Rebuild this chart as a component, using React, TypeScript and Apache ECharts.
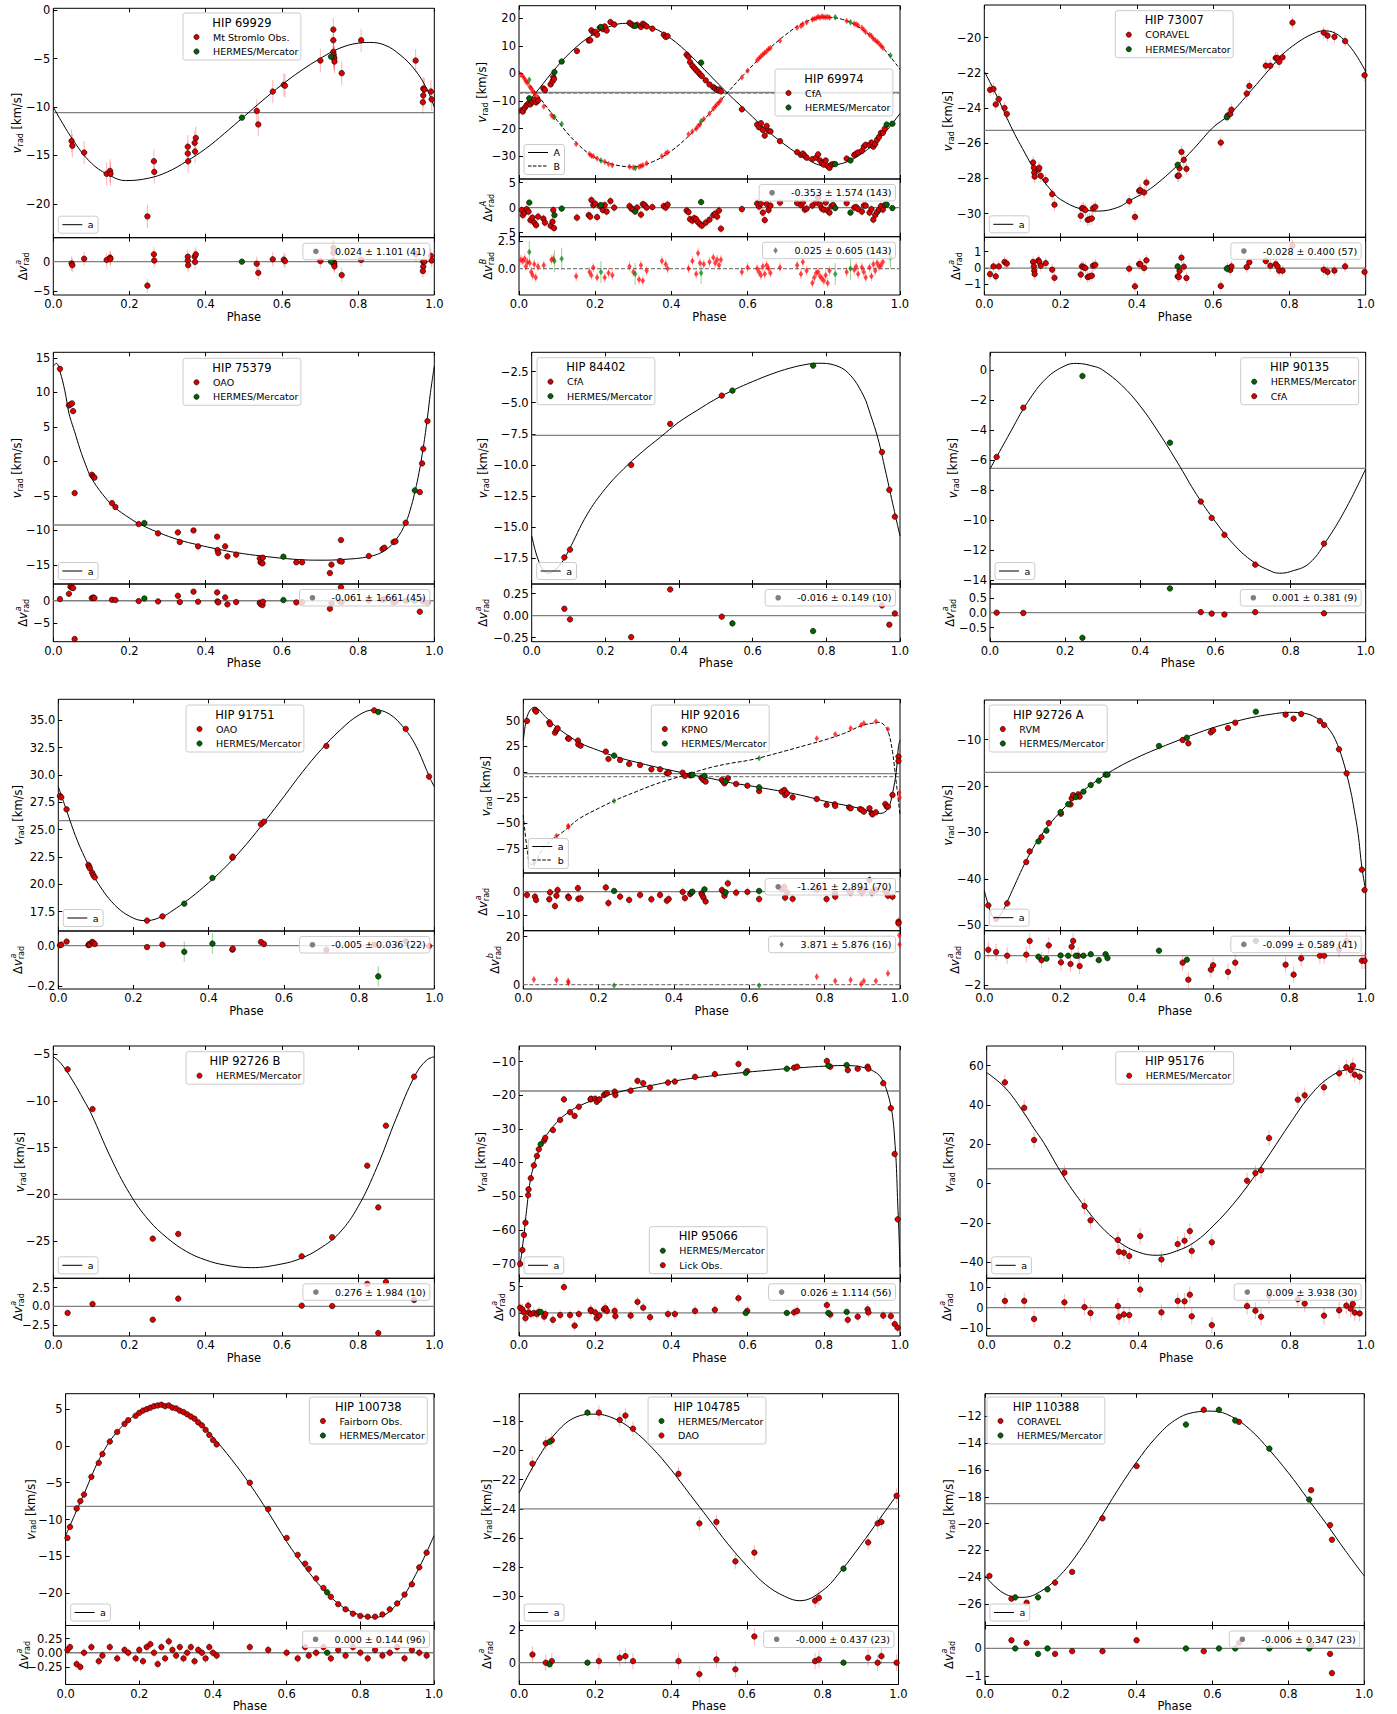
import React, { useEffect, useRef } from "react";
import * as echarts from "echarts";

type P2 = [number, number];
type P3 = [number, number, number]; // phase, v_rad, residual

const PHASE_TICKS = [0, 0.2, 0.4, 0.6, 0.8, 1.0];

// ---------------- HIP 69929
const hip69929Curve: P2[] = [[0,-10.0],[0.05,-13.3],[0.1,-15.8],[0.15,-17.1],[0.19,-17.6],[0.25,-17.35],[0.3,-16.7],[0.35,-15.6],[0.4,-14.3],[0.45,-12.7],[0.5,-11.0],[0.55,-9.3],[0.6,-7.7],[0.65,-6.25],[0.7,-5.0],[0.75,-3.95],[0.8,-3.4],[0.83,-3.33],[0.87,-3.6],[0.91,-4.6],[0.95,-6.2],[0.98,-8.1],[1.0,-10.0]];
const hip69929Gamma = -10.58;
const hip69929Stromlo: P3[] = [[0.048,-13.5,-0.3],[0.05,-14.0,-0.6],[0.081,-14.7,0.5],[0.14,-16.9,0.3],[0.149,-16.6,0.7],[0.15,-16.9,0.5],[0.247,-21.3,-4.1],[0.264,-15.6,1.25],[0.265,-16.7,0.2],[0.353,-14.1,0.85],[0.353,-14.8,0.2],[0.354,-15.6,-0.6],[0.371,-13.7,0.85],[0.372,-14.6,-0.05],[0.374,-13.2,1.25],[0.534,-10.4,-0.35],[0.538,-11.8,-1.9],[0.576,-8.4,0.4],[0.605,-7.7,0.35],[0.608,-7.8,0.1],[0.701,-5.2,0.1],[0.735,-2.0,2.4],[0.735,-3.1,1.5],[0.735,-4.3,0.1],[0.736,-4.6,-0.1],[0.737,-4.9,-0.3],[0.737,-5.0,-0.45],[0.738,-5.3,-0.8],[0.757,-6.5,-2.3],[0.808,-3.1,0.3],[0.951,-5.2,1.3],[0.971,-8.1,0.0],[0.971,-8.8,-0.85],[0.97,-9.5,-1.6],[0.974,-8.2,0.0],[0.991,-8.4,1.0],[0.993,-9.2,0.2]];
const hip69929Hermes: P3[] = [[0.495,-11.1,0.0],[0.729,-4.8,0.0]];

// ---------------- HIP 69974
const hip69974CurveA: P2[] = [[0,-14.5],[0.05,-6.0],[0.1,2.5],[0.15,9.5],[0.2,14.5],[0.25,17.5],[0.28,18.1],[0.35,16.5],[0.4,12.5],[0.45,6.5],[0.5,-0.5],[0.55,-7.5],[0.6,-14.0],[0.65,-20.5],[0.7,-26.0],[0.75,-30.5],[0.8,-33.3],[0.85,-32.5],[0.9,-29.0],[0.95,-23.0],[1.0,-14.5]];
const hip69974CurveB: P2[] = [[0,0.8],[0.05,-8.0],[0.1,-17.0],[0.15,-25.0],[0.2,-30.5],[0.25,-33.0],[0.3,-33.8],[0.35,-32.0],[0.4,-28.0],[0.45,-22.0],[0.5,-14.5],[0.55,-6.5],[0.6,1.0],[0.65,8.0],[0.7,14.0],[0.75,18.5],[0.8,20.3],[0.85,19.5],[0.9,16.0],[0.95,10.0],[1.0,1.5]];
const hip69974GammaA = -6.9;
const hip69974GammaB = -7.1;
const hip69974CfaA: P3[] = [[0.007,-13.3,-0.5],[0.01,-13.8,-1.5],[0.015,-12.5,-1.0],[0.02,-11.5,-0.3],[0.025,-10.8,-0.8],[0.03,-11.2,-2.5],[0.035,-10.2,-2.0],[0.04,-9.5,-3.0],[0.045,-10.5,-3.5],[0.05,-9.8,-1.8],[0.064,-5.4,-2.2],[0.068,-6.0,-3.0],[0.083,-4.0,-3.6],[0.088,-2.8,-2.8],[0.09,-1.3,-0.5],[0.092,-2.0,-4.1],[0.152,8.1,-2.0],[0.183,11.9,-1.5],[0.187,12.0,-1.8],[0.19,15.6,1.5],[0.195,14.8,0.5],[0.2,15.0,0.8],[0.205,14.0,-1.9],[0.212,16.5,0.3],[0.22,16.0,-0.5],[0.225,17.0,0.5],[0.23,15.5,-0.8],[0.24,18.6,1.3],[0.25,17.7,0.0],[0.29,18.3,0.3],[0.295,17.8,-0.2],[0.3,17.3,-0.4],[0.31,17.6,0.0],[0.32,16.8,-1.4],[0.325,18.0,0.7],[0.33,17.5,0.5],[0.335,17.0,0.0],[0.35,16.2,0.1],[0.38,14.0,0.3],[0.385,13.2,0.0],[0.39,13.5,0.6],[0.44,6.8,-0.6],[0.445,6.0,-0.9],[0.449,4.1,-2.3],[0.455,2.8,-2.6],[0.46,2.0,-2.1],[0.465,1.2,-2.3],[0.47,0.5,-2.9],[0.475,-0.3,-3.3],[0.48,-1.0,-3.6],[0.49,-2.5,-3.0],[0.5,-4.0,-2.4],[0.51,-5.0,-1.5],[0.515,-5.5,-1.2],[0.52,-6.0,-1.8],[0.525,-5.8,-0.6],[0.53,-6.5,-4.2],[0.585,-13.0,-0.3],[0.625,-18.5,0.8],[0.63,-19.5,0.2],[0.635,-18.0,0.8],[0.64,-20.5,-1.0],[0.645,-22.5,-2.5],[0.65,-19.0,0.7],[0.655,-20.8,-0.5],[0.66,-21.0,0.4],[0.685,-24.5,1.0],[0.73,-28.5,0.9],[0.74,-29.5,0.5],[0.745,-29.0,1.0],[0.75,-29.8,-0.4],[0.755,-30.5,-0.2],[0.77,-31.0,0.4],[0.78,-30.5,1.0],[0.785,-29.3,2.0],[0.79,-31.5,0.6],[0.795,-32.5,-0.2],[0.8,-33.0,-0.4],[0.805,-31.5,1.0],[0.81,-33.5,-0.6],[0.815,-34.2,-1.0],[0.82,-33.0,0.3],[0.825,-32.8,0.5],[0.86,-30.8,0.9],[0.88,-29.5,0.0],[0.885,-29.0,0.1],[0.89,-28.6,-0.3],[0.9,-28.0,-0.8],[0.905,-26.5,0.4],[0.91,-25.8,0.4],[0.92,-26.0,-1.0],[0.925,-25.0,-0.3],[0.93,-26.5,-2.4],[0.935,-25.5,-1.5],[0.94,-24.0,-0.9],[0.945,-23.0,-0.4],[0.95,-21.5,0.3],[0.955,-21.5,-0.4],[0.96,-20.0,0.5]];
const hip69974HermesA: P3[] = [[0.027,-9.0,1.0],[0.093,0.5,-1.5],[0.112,4.3,-0.2],[0.215,16.8,0.5],[0.305,17.2,-0.8],[0.478,3.9,1.1],[0.83,-32.8,-0.1],[0.87,-31.5,-1.0],[0.965,-18.5,0.6],[0.98,-18.2,-0.1]];
const hip69974CfaB: P3[] = [[0.005,-0.5,0.8],[0.01,-1.0,0.7],[0.015,-2.0,0.9],[0.018,-2.8,0.2],[0.022,-3.5,0.6],[0.028,-4.8,0.5],[0.032,-5.5,-0.3],[0.036,-6.3,-0.6],[0.04,-7.2,0.4],[0.044,-8.0,-0.8],[0.05,-9.0,0.2],[0.065,-12.0,0.3],[0.085,-15.0,0.8],[0.09,-15.8,0.9],[0.15,-25.5,-0.7],[0.185,-29.2,-0.3],[0.19,-29.8,-0.6],[0.195,-30.0,0.1],[0.205,-30.8,-0.8],[0.225,-32.0,-0.8],[0.235,-32.8,-0.4],[0.245,-33.2,-0.6],[0.29,-33.8,0.2],[0.3,-34.0,-0.3],[0.315,-33.8,-1.0],[0.32,-33.5,0.3],[0.325,-33.2,-1.1],[0.335,-32.5,-0.2],[0.375,-30.0,0.7],[0.385,-29.0,0.4],[0.39,-28.5,0.0],[0.445,-22.0,0.0],[0.455,-21.0,0.7],[0.465,-20.0,-0.5],[0.47,-19.0,1.4],[0.475,-18.5,0.5],[0.485,-16.5,0.4],[0.5,-14.5,0.6],[0.51,-12.8,1.0],[0.515,-12.0,0.5],[0.52,-11.2,0.8],[0.525,-10.5,0.3],[0.53,-9.6,0.8],[0.585,-1.5,-0.3],[0.6,1.0,0.1],[0.625,4.8,0.0],[0.63,5.5,-0.3],[0.635,6.2,-0.6],[0.64,6.8,0.2],[0.645,7.5,-0.5],[0.65,8.0,0.3],[0.655,8.8,0.0],[0.66,9.2,-0.4],[0.685,11.8,0.1],[0.73,16.5,0.3],[0.74,17.2,-0.5],[0.745,17.8,0.6],[0.755,18.5,-0.2],[0.77,19.5,-1.3],[0.775,19.8,-0.8],[0.78,20.0,-0.4],[0.785,20.5,-0.3],[0.79,20.2,-0.7],[0.795,20.6,-0.9],[0.8,20.4,-1.1],[0.805,20.3,-0.6],[0.81,20.5,-1.3],[0.815,20.2,-0.2],[0.86,19.0,-0.3],[0.88,18.0,-0.1],[0.885,17.8,0.2],[0.89,17.3,-0.5],[0.9,16.5,0.1],[0.905,15.8,-0.3],[0.91,15.0,-0.8],[0.92,14.0,0.1],[0.925,13.5,-0.7],[0.93,12.5,0.4],[0.935,12.0,-0.2],[0.94,11.5,0.5],[0.945,10.8,0.2],[0.95,10.0,0.3],[0.955,9.3,0.6]];
const hip69974HermesB: P3[] = [[0.027,-2.3,1.5],[0.093,-15.8,0.7],[0.112,-18.3,0.9],[0.215,-31.5,-0.3],[0.305,-34.2,-0.5],[0.478,-17.3,-0.4],[0.83,20.3,-0.5],[0.87,18.5,0.0],[0.975,6.5,1.0]];

// ---------------- HIP 73007
const hip73007Curve: P2[] = [[0,-21.93],[0.02,-22.75],[0.04,-23.65],[0.06,-24.6],[0.08,-25.5],[0.1,-26.3],[0.13,-27.45],[0.15,-28.0],[0.18,-28.8],[0.2,-29.2],[0.25,-29.72],[0.3,-29.86],[0.35,-29.65],[0.38,-29.28],[0.42,-28.8],[0.45,-28.35],[0.5,-27.4],[0.55,-26.3],[0.6,-25.1],[0.64,-24.43],[0.7,-23.0],[0.75,-21.74],[0.78,-21.0],[0.82,-20.3],[0.86,-19.8],[0.89,-19.62],[0.92,-19.75],[0.95,-20.3],[0.975,-21.0],[1.0,-21.93]];
const hip73007Gamma = -25.27;
const hip73007Coravel: P3[] = [[0.015,-22.97,-0.37],[0.024,-22.92,0.1],[0.03,-23.8,-0.51],[0.038,-23.5,0.1],[0.053,-24.0,0.37],[0.059,-24.34,0.27],[0.128,-27.1,0.37],[0.13,-27.4,0.1],[0.131,-27.67,-0.16],[0.132,-27.9,-0.37],[0.142,-27.5,0.47],[0.144,-27.4,0.37],[0.148,-27.86,0.14],[0.161,-28.1,0.3],[0.178,-28.9,-0.1],[0.184,-29.5,-0.6],[0.253,-30.13,-0.4],[0.256,-29.7,0.1],[0.26,-29.7,0.06],[0.265,-29.8,0.0],[0.271,-30.36,-0.55],[0.276,-30.32,-0.51],[0.282,-30.28,-0.47],[0.285,-29.7,0.14],[0.291,-29.62,0.2],[0.38,-29.3,-0.04],[0.395,-30.19,-1.12],[0.406,-28.71,0.24],[0.409,-28.67,0.24],[0.419,-28.8,0.0],[0.425,-28.24,0.47],[0.507,-27.86,-0.51],[0.51,-27.84,-0.55],[0.512,-27.42,-0.18],[0.517,-26.5,0.63],[0.523,-26.95,0.08],[0.53,-27.46,-0.61],[0.62,-25.97,-1.1],[0.638,-24.43,0.0],[0.645,-24.34,-0.12],[0.648,-24.1,0.1],[0.688,-23.18,0.06],[0.695,-22.75,0.35],[0.738,-21.6,0.43],[0.75,-21.6,0.14],[0.764,-21.16,0.24],[0.769,-21.17,0.1],[0.773,-21.38,-0.16],[0.782,-21.12,-0.16],[0.808,-19.15,1.37],[0.89,-19.72,-0.1],[0.9,-19.89,-0.24],[0.918,-19.96,-0.16],[0.946,-20.2,0.1],[0.997,-22.14,-0.24]];
const hip73007Hermes: P3[] = [[0.507,-27.23,0.1],[0.636,-24.53,-0.04]];

// ---------------- HIP 75379
const hip75379Curve: P2[] = [[0,13.8],[0.008,14.2],[0.0175,13.0],[0.03,10.3],[0.041,7.0],[0.05,5.3],[0.056,4.3],[0.07,1.8],[0.085,-0.5],[0.1,-2.4],[0.13,-4.8],[0.16,-6.6],[0.2,-8.2],[0.224,-9.0],[0.275,-10.27],[0.33,-11.37],[0.38,-12.08],[0.43,-12.68],[0.48,-13.2],[0.55,-13.72],[0.64,-14.2],[0.7,-14.3],[0.76,-14.2],[0.83,-13.77],[0.87,-12.9],[0.9,-11.3],[0.925,-8.88],[0.94,-6.4],[0.95,-4.2],[0.96,-1.6],[0.971,1.98],[0.982,6.34],[0.99,10.0],[1.0,13.8]];
const hip75379Gamma = -9.21;
const hip75379Oao: P3[] = [[0.0175,13.4,0.37],[0.041,8.1,1.54],[0.045,8.25,3.1],[0.049,8.4,2.9],[0.052,7.28,2.8],[0.056,-4.58,-8.45],[0.101,-1.93,0.59],[0.105,-2.2,0.73],[0.108,-2.35,0.59],[0.154,-6.03,0.22],[0.163,-6.6,0.15],[0.224,-9.07,-0.07],[0.275,-10.42,-0.15],[0.327,-10.28,1.1],[0.332,-11.67,-0.3],[0.368,-10.0,2.0],[0.38,-12.3,-0.22],[0.43,-10.9,1.84],[0.431,-12.83,-0.15],[0.433,-13.27,-0.37],[0.451,-12.3,0.73],[0.457,-13.75,-0.8],[0.48,-13.5,-0.3],[0.542,-14.04,-0.44],[0.544,-14.6,-0.73],[0.549,-14.76,-0.96],[0.55,-13.94,-0.22],[0.638,-14.6,-0.37],[0.653,-14.6,-0.3],[0.726,-16.16,-1.76],[0.73,-14.95,-0.6],[0.752,-14.42,-0.15],[0.755,-11.38,3.0],[0.757,-14.5,-0.3],[0.828,-13.7,0.07],[0.864,-12.69,0.22],[0.869,-12.5,0.37],[0.893,-11.67,-0.37],[0.898,-11.58,-0.22],[0.925,-8.88,0.0],[0.962,-4.44,-2.43],[0.968,-0.29,0.07],[0.971,1.83,-0.15],[0.982,5.84,-0.5]];
const hip75379Hermes: P3[] = [[0.239,-8.92,0.5],[0.604,-13.8,0.15],[0.949,-4.2,0.0]];

// ---------------- HIP 84402
const hip84402Curve: P2[] = [[0,-15.7],[0.01,-16.9],[0.02,-17.8],[0.03,-18.4],[0.045,-18.7],[0.06,-18.5],[0.08,-17.9],[0.1,-16.9],[0.15,-14.0],[0.2,-11.9],[0.25,-10.3],[0.3,-8.95],[0.35,-7.75],[0.4,-6.55],[0.45,-5.6],[0.5,-4.7],[0.55,-3.95],[0.6,-3.3],[0.65,-2.71],[0.7,-2.23],[0.75,-1.9],[0.78,-1.83],[0.82,-1.96],[0.86,-2.63],[0.9,-4.38],[0.92,-5.98],[0.94,-7.86],[0.96,-10.4],[0.98,-13.08],[1.0,-15.7]];
const hip84402Gamma = -7.62;
const hip84402Cfa: P3[] = [[0.0887,-17.42,0.079],[0.104,-16.8,-0.042],[0.27,-10.0,-0.242],[0.376,-6.7,0.298],[0.516,-4.43,-0.011],[0.951,-8.96,0.117],[0.971,-12.0,-0.102],[0.986,-14.15,0.026]];
const hip84402Hermes: P3[] = [[0.545,-4.03,-0.087],[0.764,-2.02,-0.174]];

// ---------------- HIP 90135
const hip90135Curve: P2[] = [[0,-6.59],[0.05,-4.33],[0.1,-2.15],[0.15,-0.55],[0.2,0.29],[0.23,0.44],[0.28,0.22],[0.3,0.0],[0.35,-1.0],[0.4,-2.4],[0.45,-4.2],[0.5,-6.2],[0.55,-8.3],[0.6,-10.1],[0.65,-11.65],[0.7,-12.76],[0.75,-13.42],[0.77,-13.53],[0.8,-13.42],[0.85,-12.87],[0.9,-11.2],[0.95,-9.1],[1.0,-6.59]];
const hip90135Gamma = -6.55;
const hip90135Cfa: P3[] = [[0.0177,-5.79,0.0],[0.0887,-2.51,-0.01],[0.561,-8.76,0.02],[0.59,-9.85,-0.03],[0.624,-10.98,-0.06],[0.706,-12.96,0.02],[0.889,-11.56,-0.02]];
const hip90135Hermes: P3[] = [[0.246,-0.4,-0.84],[0.479,-4.84,0.81]];

// ---------------- HIP 91751
const hip91751Curve: P2[] = [[0,28.93],[0.02,26.95],[0.05,24.05],[0.08,21.77],[0.1,20.4],[0.15,18.11],[0.2,16.9],[0.235,16.68],[0.28,17.1],[0.3,17.5],[0.35,18.72],[0.4,20.15],[0.45,21.77],[0.5,23.66],[0.55,25.79],[0.6,28.02],[0.65,30.3],[0.7,32.35],[0.75,34.12],[0.8,35.49],[0.84,35.95],[0.88,35.58],[0.92,34.27],[0.95,32.74],[0.98,30.4],[0.99,29.6],[1.0,28.93]];
const hip91751Gamma = 25.82;
const hip91751Oao: P3[] = [[0.0044,28.08,0.002],[0.008,27.96,0.005],[0.022,26.86,0.02],[0.08,21.77,0.003],[0.082,21.62,0.008],[0.084,21.46,0.005],[0.09,21.07,0.018],[0.093,20.85,0.015],[0.097,20.64,0.008],[0.236,16.68,-0.007],[0.277,17.07,0.005],[0.463,22.44,-0.02],[0.464,22.53,-0.015],[0.539,25.49,0.018],[0.547,25.73,0.008],[0.713,32.65,-0.021],[0.84,35.91,0.005],[0.924,34.21,0.021],[0.986,29.85,-0.002]];
const hip91751Hermes: P3[] = [[0.335,18.23,-0.03],[0.41,20.58,0.01],[0.851,35.76,-0.151]];

// ---------------- HIP 92016
const hip92016CurveA: P2[] = [[0,31],[0.005,45],[0.01,54],[0.02,61.2],[0.03,63.2],[0.04,61.5],[0.05,57.3],[0.08,46.5],[0.1,40.5],[0.15,28.5],[0.2,21.0],[0.25,14.5],[0.3,9.5],[0.35,5.0],[0.4,1.0],[0.45,-3.0],[0.5,-6.5],[0.55,-10.5],[0.6,-13.4],[0.65,-16.6],[0.7,-19.9],[0.75,-23.8],[0.8,-28.5],[0.85,-32.2],[0.9,-36.2],[0.93,-39.8],[0.95,-40.4],[0.96,-39.0],[0.97,-35.0],[0.98,-21.0],[0.99,0.0],[0.996,25.0],[1.0,31]];
const hip92016CurveB: P2[] = [[0,-42],[0.01,-75],[0.02,-90.5],[0.03,-89.5],[0.05,-76],[0.08,-64.8],[0.1,-60],[0.12,-54],[0.15,-45.3],[0.2,-35.5],[0.25,-26.7],[0.3,-19.2],[0.35,-12],[0.4,-6.2],[0.45,-0.7],[0.5,4.6],[0.55,8.5],[0.6,11.5],[0.65,16],[0.7,21.0],[0.75,26.1],[0.8,31.3],[0.85,37.5],[0.9,45.5],[0.93,47.8],[0.945,48.5],[0.96,45],[0.97,38],[0.98,20],[0.99,-10],[1.0,-42]];
const hip92016GammaA = -1.6;
const hip92016GammaB = -4.6;
const hip92016KpnoA: P3[] = [[0.0097,49.8,-1.4],[0.031,60.6,-2.1],[0.034,59.0,-3.5],[0.069,48.5,-3.2],[0.071,46.6,-0.3],[0.084,38.4,-6.1],[0.088,41.0,-1.7],[0.091,42.7,0.7],[0.119,32.9,-2.1],[0.121,32.5,-2.6],[0.145,30.6,1.5],[0.146,27.0,-3.0],[0.152,25.7,-2.8],[0.219,19.9,1.8],[0.226,12.7,-4.8],[0.257,11.7,-2.1],[0.281,7.8,-3.5],[0.31,6.8,-1.4],[0.34,2.6,-3.2],[0.363,2.6,-1.4],[0.381,-1.3,-3.8],[0.386,-0.7,-3.1],[0.423,-0.7,-0.1],[0.429,-3.9,-2.7],[0.443,-3.3,-1.0],[0.473,-5.5,-0.7],[0.475,-6.2,-1.4],[0.478,-7.8,-2.4],[0.484,-9.4,-4.1],[0.527,-7.8,0.7],[0.531,-9.4,0.0],[0.534,-11.1,-1.7],[0.543,-6.2,3.5],[0.565,-11.7,-0.4],[0.595,-13.4,-0.1],[0.626,-18.6,-3.1],[0.686,-19.2,1.0],[0.693,-17.6,2.0],[0.695,-22.5,-2.5],[0.7,-20.8,-0.3],[0.715,-24.8,-3.0],[0.779,-26.4,0.8],[0.805,-32.2,-3.1],[0.827,-31.6,-0.7],[0.828,-33.2,-2.1],[0.865,-34.5,0.2],[0.869,-35.5,-0.3],[0.894,-36.2,0.5],[0.899,-37.1,-0.2],[0.904,-38.8,0.6],[0.919,-35.5,4.9],[0.925,-40.4,-0.4],[0.927,-41.4,0.0],[0.936,-39.4,0.7],[0.961,-31.3,0.2],[0.965,-33.9,0.0],[0.968,-33.9,-1.7],[0.98,-22.5,-2.1],[0.996,15.0,-12.7],[0.996,10.7,-13.4]];
const hip92016HermesA: P3[] = [[0.241,16.0,0.3],[0.446,-2.9,-0.3],[0.449,-2.9,0.0],[0.481,-3.9,1.0],[0.537,-9.4,-0.3],[0.626,-15.0,0.3]];
const hip92016KpnoB: P3[] = [[0.028,-89.3,2.2],[0.088,-62.5,1.9],[0.119,-52.8,1.4],[0.12,-53.4,0.8],[0.779,32.6,3.3],[0.828,36.8,1.5],[0.869,42.7,1.9],[0.897,45.9,0.3],[0.904,47.6,1.5],[0.936,49.2,1.5],[0.968,41.7,4.7],[0.998,-20.0,20.6],[0.999,-25.0,16.8]];
const hip92016HermesB: P3[] = [[0.241,-28.3,-0.3],[0.626,13.4,-0.3]];

// ---------------- HIP 92726 A
const hip92726ACurve: P2[] = [[0,-42.5],[0.01,-45.5],[0.02,-47.8],[0.03,-48.5],[0.045,-47.4],[0.06,-44.9],[0.08,-41.3],[0.1,-37.7],[0.12,-34.5],[0.15,-30.5],[0.2,-25.5],[0.25,-21.6],[0.3,-18.55],[0.35,-15.96],[0.4,-13.88],[0.45,-12.08],[0.5,-10.43],[0.55,-8.85],[0.6,-7.41],[0.65,-6.26],[0.7,-5.26],[0.75,-4.54],[0.8,-4.11],[0.84,-4.32],[0.88,-5.76],[0.9,-7.34],[0.92,-9.93],[0.94,-14.38],[0.96,-20.85],[0.97,-25.2],[0.98,-30.2],[0.99,-37.5],[1.0,-42.5]];
const hip92726AGamma = -17.04;
const hip92726ARvm: P3[] = [[0.0105,-45.7,0.4],[0.031,-48.65,0.25],[0.06,-45.27,0.0],[0.11,-36.37,0.07],[0.119,-34.07,1.0],[0.15,-30.98,-0.3],[0.169,-27.96,0.7],[0.201,-25.95,-0.45],[0.226,-23.94,-0.56],[0.229,-22.64,0.61],[0.233,-21.93,1.0],[0.246,-21.78,0.0],[0.25,-22.28,-0.7],[0.52,-10.07,-0.47],[0.535,-10.79,-1.62],[0.594,-8.42,-0.94],[0.6,-7.99,-0.65],[0.639,-7.49,-1.1],[0.658,-6.34,-0.47],[0.79,-4.61,-0.61],[0.811,-5.47,-1.28],[0.831,-4.47,-0.18],[0.88,-5.98,0.0],[0.891,-6.84,0.0],[0.93,-12.08,0.43],[0.95,-17.26,1.0],[0.99,-38.0,-0.34],[0.997,-42.4,-0.34]];
const hip92726AHermes: P3[] = [[0.142,-31.9,-0.07],[0.163,-29.6,-0.2],[0.2,-25.6,0.02],[0.22,-23.9,0.0],[0.24,-22.36,0.0],[0.26,-21.2,0.0],[0.279,-19.77,0.1],[0.3,-18.84,-0.3],[0.318,-17.54,0.1],[0.323,-17.54,-0.16],[0.458,-11.36,0.34],[0.531,-9.57,-0.27],[0.712,-3.97,1.0]];

// ---------------- HIP 92726 B
const hip92726BCurve: P2[] = [[0,-5.25],[0.02,-5.96],[0.05,-7.75],[0.08,-9.89],[0.1,-11.4],[0.15,-16.0],[0.2,-19.89],[0.25,-22.75],[0.3,-24.71],[0.35,-26.14],[0.4,-27.04],[0.45,-27.57],[0.52,-27.86],[0.6,-27.46],[0.65,-26.86],[0.7,-25.79],[0.75,-24.18],[0.8,-21.32],[0.85,-17.04],[0.9,-11.86],[0.95,-7.21],[0.98,-5.61],[1.0,-5.25]];
const hip92726BGamma = -20.54;
const hip92726BHermes: P3[] = [[0.0376,-6.6,-0.89],[0.103,-10.86,0.31],[0.261,-24.75,-1.79],[0.328,-24.25,1.03],[0.652,-26.64,0.09],[0.732,-24.6,0.04],[0.824,-16.93,3.0],[0.853,-21.4,-3.57],[0.873,-12.64,3.26],[0.947,-7.39,0.85]];

// ---------------- HIP 95066
const hip95066Curve: P2[] = [[0,-71],[0.005,-68.5],[0.009,-65],[0.013,-61.5],[0.017,-57],[0.021,-53],[0.025,-49],[0.031,-44.5],[0.039,-40.8],[0.047,-37.9],[0.052,-36.4],[0.06,-34.3],[0.068,-32.6],[0.08,-30.6],[0.09,-29.2],[0.108,-27.0],[0.134,-24.7],[0.157,-23.2],[0.2,-21.2],[0.25,-19.4],[0.3,-18.0],[0.35,-17.0],[0.4,-15.9],[0.45,-15.0],[0.5,-14.3],[0.55,-13.7],[0.6,-13.1],[0.65,-12.6],[0.7,-12.1],[0.75,-11.7],[0.8,-11.35],[0.85,-11.15],[0.88,-11.25],[0.91,-11.9],[0.93,-12.8],[0.945,-14.0],[0.956,-15.9],[0.966,-18.8],[0.976,-23.2],[0.982,-27.5],[0.986,-33],[0.99,-40],[0.994,-52],[0.997,-60],[1.0,-71]];
const hip95066Gamma = -18.7;
const hip95066Lick: P3[] = [[0.003,-70.0,1.0],[0.009,-65.9,0.7],[0.013,-61.4,0.1],[0.017,-57.8,-1.0],[0.024,-49.6,1.4],[0.025,-47.9,0.1],[0.031,-44.6,-0.2],[0.039,-40.8,0.0],[0.047,-38.0,-0.2],[0.052,-36.0,0.2],[0.066,-33.4,-0.7],[0.069,-32.6,-0.2],[0.089,-30.3,-1.3],[0.108,-27.3,-0.4],[0.118,-21.2,4.9],[0.134,-25.0,-0.4],[0.146,-26.1,-2.4],[0.157,-23.4,-0.2],[0.188,-21.2,0.6],[0.189,-21.0,0.4],[0.2,-21.0,0.1],[0.204,-21.9,-1.0],[0.211,-21.2,-0.5],[0.223,-19.9,0.7],[0.227,-19.6,0.9],[0.231,-19.4,0.4],[0.251,-18.9,0.4],[0.253,-19.9,-0.6],[0.293,-18.6,-0.5],[0.311,-15.7,2.1],[0.326,-16.4,1.0],[0.344,-17.7,-0.8],[0.391,-16.2,-0.2],[0.409,-15.9,-0.2],[0.462,-14.5,0.4],[0.514,-13.7,0.6],[0.576,-10.7,2.8],[0.599,-12.8,0.4],[0.722,-11.8,0.1],[0.73,-11.5,0.4],[0.808,-9.8,1.5],[0.817,-11.5,-0.3],[0.863,-12.5,-1.3],[0.889,-12.1,-0.7],[0.915,-11.5,0.7],[0.917,-12.1,0.1],[0.956,-16.4,-0.5],[0.976,-23.8,-0.6],[0.986,-37.4,-2.1],[0.994,-56.8,-2.8]];
const hip95066Hermes: P3[] = [[0.057,-34.5,0.2],[0.595,-13.3,0.0],[0.703,-12.1,0.0],[0.812,-11.2,0.0],[0.86,-11.0,0.2]];

// ---------------- HIP 95176
const hip95176Curve: P2[] = [[0,56.5],[0.05,48.5],[0.1,35.5],[0.125,28],[0.15,21],[0.2,4.5],[0.25,-9.5],[0.3,-21.5],[0.35,-29.8],[0.4,-34.8],[0.45,-36.4],[0.5,-34.3],[0.55,-29.5],[0.6,-21.0],[0.65,-10.5],[0.7,2.0],[0.75,16.0],[0.8,30.5],[0.85,44.0],[0.9,53.5],[0.95,58.0],[0.97,58.3],[1.0,56.5]];
const hip95176Gamma = 7.6;
const hip95176Hermes: P3[] = [[0.048,51.5,3.3],[0.099,38.6,3.3],[0.125,22.2,-5.5],[0.205,5.6,2.6],[0.258,-11.4,0.3],[0.274,-18.6,-2.6],[0.346,-28.6,0.8],[0.349,-34.6,-4.4],[0.362,-35.1,-3.3],[0.376,-36.8,-3.6],[0.405,-26.6,8.8],[0.461,-38.5,-2.3],[0.504,-30.7,3.3],[0.522,-29.0,3.1],[0.536,-24.1,6.3],[0.541,-34.2,-4.2],[0.594,-29.8,-8.5],[0.687,1.5,0.8],[0.709,5.4,-1.5],[0.724,6.8,-4.4],[0.745,23.2,5.9],[0.821,42.7,4.1],[0.839,44.9,2.0],[0.89,49.0,-3.9],[0.93,56.1,-1.3],[0.949,59.2,1.0],[0.96,57.8,-0.5],[0.966,60.0,1.8],[0.971,55.4,-2.4],[0.984,54.4,-2.8]];

// ---------------- HIP 100738
const hip100738Curve: P2[] = [[0,-12.2],[0.05,-6.5],[0.1,-1.0],[0.15,2.5],[0.2,4.5],[0.26,5.5],[0.3,5.2],[0.35,3.8],[0.4,1.2],[0.45,-1.8],[0.5,-5.2],[0.55,-9.0],[0.6,-13.0],[0.65,-16.5],[0.7,-19.5],[0.75,-21.8],[0.8,-23.0],[0.84,-23.3],[0.9,-21.5],[0.95,-17.5],[1.0,-12.2]];
const hip100738Gamma = -8.2;
const hip100738Fairborn: P3[] = [[0.005,-12.5,0.05],[0.012,-11.0,0.1],[0.03,-8.5,-0.2],[0.04,-7.5,-0.25],[0.05,-6.6,0.0],[0.07,-4.2,0.1],[0.09,-2.3,-0.15],[0.1,-1.1,-0.05],[0.12,0.6,0.1],[0.14,1.9,-0.1],[0.16,3.0,0.05],[0.17,3.5,0.0],[0.19,4.1,-0.1],[0.2,4.5,0.05],[0.21,4.8,-0.15],[0.22,5.0,0.1],[0.23,5.2,0.15],[0.24,5.4,0.0],[0.25,5.5,-0.2],[0.26,5.6,0.1],[0.27,5.4,-0.1],[0.28,5.5,0.2],[0.29,5.2,0.05],[0.3,5.1,-0.05],[0.31,4.8,0.1],[0.32,4.6,-0.1],[0.33,4.3,0.0],[0.34,4.0,0.1],[0.35,3.7,-0.15],[0.36,3.2,0.05],[0.37,2.8,0.0],[0.38,2.2,-0.1],[0.39,1.5,0.1],[0.4,0.8,0.0],[0.41,0.2,-0.05],[0.5,-5.0,0.1],[0.55,-8.6,0.05],[0.6,-12.5,0.0],[0.63,-14.8,-0.1],[0.65,-16.0,0.1],[0.66,-16.7,-0.05],[0.68,-18.0,0.0],[0.7,-19.3,0.1],[0.72,-20.5,-0.1],[0.74,-21.5,0.05],[0.76,-22.2,-0.05],[0.78,-22.8,0.1],[0.8,-23.1,0.0],[0.82,-23.2,-0.1],[0.84,-23.2,0.05],[0.86,-22.9,-0.05],[0.88,-22.2,0.0],[0.9,-21.4,0.1],[0.92,-20.2,-0.1],[0.94,-18.8,0.05],[0.96,-16.5,0.0],[0.98,-14.5,-0.05]];
const hip100738Hermes: P3[] = [[0.71,-19.9,0.0]];

// ---------------- HIP 104785
const hip104785Curve: P2[] = [[0,-22.9],[0.05,-20.5],[0.1,-18.7],[0.15,-17.7],[0.2,-17.5],[0.25,-17.8],[0.3,-18.6],[0.35,-19.8],[0.4,-21.3],[0.45,-23.0],[0.5,-24.7],[0.55,-26.4],[0.6,-27.9],[0.65,-29.2],[0.7,-30.0],[0.74,-30.3],[0.8,-29.6],[0.85,-28.2],[0.9,-26.5],[0.95,-24.7],[1.0,-22.9]];
const hip104785Gamma = -24.0;
const hip104785Dao: P3[] = [[0.035,-20.9,0.5],[0.07,-19.5,0.0],[0.086,-19.3,0.1],[0.21,-17.4,0.1],[0.265,-17.9,0.3],[0.28,-17.6,0.4],[0.3,-18.5,0.1],[0.42,-21.6,0.1],[0.475,-25.0,-0.7],[0.52,-24.9,0.2],[0.57,-27.6,-0.4],[0.62,-27.0,1.6],[0.78,-30.3,0.1],[0.79,-30.1,0.2],[0.92,-26.3,0.3],[0.945,-25.0,0.0],[0.955,-24.9,0.4],[0.995,-23.1,0.0]];
const hip104785Hermes: P3[] = [[0.08,-19.4,-0.1],[0.18,-17.4,0.0],[0.855,-28.1,0.0]];

// ---------------- HIP 110388
const hip110388Curve: P2[] = [[0,-23.9],[0.05,-25.2],[0.1,-25.5],[0.15,-25.0],[0.2,-23.8],[0.25,-22.0],[0.3,-19.8],[0.35,-17.5],[0.4,-15.4],[0.45,-13.6],[0.5,-12.3],[0.55,-11.7],[0.6,-11.6],[0.65,-12.0],[0.7,-13.0],[0.75,-14.5],[0.8,-16.2],[0.85,-18.1],[0.9,-20.0],[0.95,-22.0],[1.0,-23.9]];
const hip110388Gamma = -18.5;
const hip110388Coravel: P3[] = [[0.012,-23.9,1.1],[0.07,-25.6,0.3],[0.11,-25.9,0.2],[0.185,-24.4,-0.2],[0.23,-23.6,-0.1],[0.31,-19.6,-0.1],[0.4,-15.7,0.3],[0.577,-11.5,-0.1],[0.67,-12.4,0.2],[0.86,-17.5,0.1],[0.91,-20.1,-0.2],[0.915,-21.2,-0.9]];
const hip110388Hermes: P3[] = [[0.08,-25.5,0.0],[0.14,-25.5,-0.2],[0.165,-24.9,0.0],[0.53,-12.6,0.0],[0.617,-11.5,0.0],[0.66,-12.3,0.0],[0.75,-14.4,0.0],[0.855,-18.2,0.0]];

// ---------------- styles
const FONT = '"DejaVu Sans", sans-serif';
const RED = "#dc0000";
const GREEN = "#006400";
const RED_B = "rgba(255,0,0,0.7)";
const GREEN_B = "rgba(0,128,0,0.7)";
const RED_ERR = "rgba(255,0,0,0.28)";
const GREEN_ERR = "rgba(0,128,0,0.35)";
const GREY = "#808080";

interface DS { pts: P3[]; color: string; edge: boolean; diamond: boolean; err: number; errColor: string; res: number }
interface PanelDef {
  left: number; right: number; top: number; bottoms: number[];
  ranges: [number, number][]; ticks: number[][]; dec: number[];
  curves: { data: P2[]; dash?: boolean }[];
  gammas: { v: number; dash?: boolean }[];
  zeroDash?: boolean[];
  sets: DS[];
  leg: { x: number; y: number; title: string; items: [string, string][] };
  fit: [string, boolean][];
  resLeg: { text: string; diamond?: boolean }[];
  ylab: number[];
  sup: string[];
}

const red = (pts: P3[], err = 0, res = 1): DS => ({ pts, color: RED, edge: true, diamond: false, err, errColor: RED_ERR, res });
const green = (pts: P3[], err = 0, res = 1): DS => ({ pts, color: GREEN, edge: true, diamond: false, err, errColor: GREEN_ERR, res });
const redB = (pts: P3[], err = 0): DS => ({ pts, color: RED_B, edge: false, diamond: true, err, errColor: RED_ERR, res: 2 });
const greenB = (pts: P3[], err = 0): DS => ({ pts, color: GREEN_B, edge: false, diamond: true, err, errColor: GREEN_ERR, res: 2 });

const PANELS: PanelDef[] = [
  { left: 53.3, right: 434.3, top: 8.3, bottoms: [237.7, 295], ranges: [[-23.5, 0.2], [-5.7, 4.1]], ticks: [[0, -5, -10, -15, -20], [0, -5]], dec: [0, 0],
    curves: [{ data: hip69929Curve }], gammas: [{ v: hip69929Gamma }],
    sets: [red(hip69929Stromlo, 1.2), green(hip69929Hermes, 0.1)],
    leg: { x: 183, y: 13, title: "HIP 69929", items: [["Mt Stromlo Obs.", RED], ["HERMES/Mercator", GREEN]] },
    fit: [["a", false]], resLeg: [{ text: "0.024 \u00b1 1.101 (41)" }], ylab: [17, 23], sup: ["a"] },
  { left: 519, right: 900, top: 5.7, bottoms: [179, 236.7, 295], ranges: [[-38.2, 24.5], [-5.8, 5.7], [-2.4, 2.9]], ticks: [[20, 10, 0, -10, -20, -30], [-5, 0, 5], [0, 2.5]], dec: [0, 0, 1],
    curves: [{ data: hip69974CurveA }, { data: hip69974CurveB, dash: true }], gammas: [{ v: hip69974GammaA }, { v: hip69974GammaB, dash: true }], zeroDash: [false, true],
    sets: [redB(hip69974CfaB, 0.45), greenB(hip69974HermesB, 1.0), red(hip69974CfaA, 0.9), green(hip69974HermesA, 0.3)],
    leg: { x: 775, y: 69, title: "HIP 69974", items: [["CfA", RED], ["HERMES/Mercator", GREEN]] },
    fit: [["A", false], ["B", true]], resLeg: [{ text: "-0.353 \u00b1 1.574 (143)" }, { text: "0.025 \u00b1 0.605 (143)", diamond: true }], ylab: [481.7, 488, 488], sup: ["A", "B"] },
  { left: 984.3, right: 1365.7, top: 5, bottoms: [237.3, 295], ranges: [[-31.35, -18.15], [-1.65, 1.88]], ticks: [[-20, -22, -24, -26, -28, -30], [-1, 0, 1]], dec: [0, 0],
    curves: [{ data: hip73007Curve }], gammas: [{ v: hip73007Gamma }],
    sets: [red(hip73007Coravel, 0.35), green(hip73007Hermes, 0.05)],
    leg: { x: 1115.3, y: 10.7, title: "HIP 73007", items: [["CORAVEL", RED], ["HERMES/Mercator", GREEN]] },
    fit: [["a", false]], resLeg: [{ text: "-0.028 \u00b1 0.400 (57)" }], ylab: [947.7, 955.7], sup: ["a"] },
  { left: 53.3, right: 434.3, top: 352.3, bottoms: [584, 641.7], ranges: [[-17.75, 15.8], [-9.05, 3.7]], ticks: [[15, 10, 5, 0, -5, -10, -15], [0, -5]], dec: [0, 0],
    curves: [{ data: hip75379Curve }], gammas: [{ v: hip75379Gamma }],
    sets: [red(hip75379Oao, 0), green(hip75379Hermes, 0)],
    leg: { x: 183, y: 358.3, title: "HIP 75379", items: [["OAO", RED], ["HERMES/Mercator", GREEN]] },
    fit: [["a", false]], resLeg: [{ text: "-0.061 \u00b1 1.661 (45)" }], ylab: [16.7, 23.3], sup: ["a"] },
  { left: 531.7, right: 900, top: 352.3, bottoms: [584, 641.7], ranges: [[-19.56, -0.95], [-0.295, 0.36]], ticks: [[-2.5, -5, -7.5, -10, -12.5, -15, -17.5], [0.25, 0, -0.25]], dec: [1, 2],
    curves: [{ data: hip84402Curve }], gammas: [{ v: hip84402Gamma }],
    sets: [red(hip84402Cfa, 0.01), green(hip84402Hermes, 0.035)],
    leg: { x: 537, y: 357.7, title: "HIP 84402", items: [["CfA", RED], ["HERMES/Mercator", GREEN]] },
    fit: [["a", false]], resLeg: [{ text: "-0.016 \u00b1 0.149 (10)" }], ylab: [483.3, 483.3], sup: ["a"] },
  { left: 990, right: 1365.7, top: 352.3, bottoms: [584, 641.7], ranges: [[-14.25, 1.18], [-0.97, 0.96]], ticks: [[0, -2, -4, -6, -8, -10, -12, -14], [0.5, 0, -0.5]], dec: [0, 1],
    curves: [{ data: hip90135Curve }], gammas: [{ v: hip90135Gamma }],
    sets: [green(hip90135Hermes, 0), red(hip90135Cfa, 0)],
    leg: { x: 1240.7, y: 357.7, title: "HIP 90135", items: [["HERMES/Mercator", GREEN], ["CfA", RED]] },
    fit: [["a", false]], resLeg: [{ text: "0.001 \u00b1 0.381 (9)" }], ylab: [953.3, 950], sup: ["a"] },
  { left: 58.3, right: 434.3, top: 699.3, bottoms: [931, 989], ranges: [[15.73, 36.92], [-0.213, 0.072]], ticks: [[17.5, 20, 22.5, 25, 27.5, 30, 32.5, 35], [0, -0.2]], dec: [1, 1],
    curves: [{ data: hip91751Curve }], gammas: [{ v: hip91751Gamma }],
    sets: [red(hip91751Oao, 0), green(hip91751Hermes, 0.05)],
    leg: { x: 186, y: 705, title: "HIP 91751", items: [["OAO", RED], ["HERMES/Mercator", GREEN]] },
    fit: [["a", false]], resLeg: [{ text: "-0.005 \u00b1 0.036 (22)" }], ylab: [18.3, 18.3], sup: ["a"] },
  { left: 523.3, right: 900, top: 699.3, bottoms: [873, 930.7, 989], ranges: [[-98.7, 71], [-16.5, 7.9], [-1.8, 22.5]], ticks: [[50, 25, 0, -25, -50, -75], [0, -10], [0, 20]], dec: [0, 0, 0],
    curves: [{ data: hip92016CurveA }, { data: hip92016CurveB, dash: true }], gammas: [{ v: hip92016GammaA }, { v: hip92016GammaB, dash: true }], zeroDash: [false, true],
    sets: [redB(hip92016KpnoB, 1.5), greenB(hip92016HermesB, 0.8), red(hip92016KpnoA, 2.0), green(hip92016HermesA, 0.5)],
    leg: { x: 651.3, y: 705, title: "HIP 92016", items: [["KPNO", RED], ["HERMES/Mercator", GREEN]] },
    fit: [["a", false], ["b", true]], resLeg: [{ text: "-1.261 \u00b1 2.891 (70)" }, { text: "3.871 \u00b1 5.876 (16)", diamond: true }], ylab: [486, 483.3, 495], sup: ["a", "b"] },
  { left: 984.3, right: 1365.7, top: 700, bottoms: [930.7, 989], ranges: [[-51.16, -1.45], [-2.25, 1.69]], ticks: [[-10, -20, -30, -40, -50], [0, -2]], dec: [0, 0],
    curves: [{ data: hip92726ACurve }], gammas: [{ v: hip92726AGamma }],
    sets: [red(hip92726ARvm, 0.55), green(hip92726AHermes, 0.05)],
    leg: { x: 989.3, y: 705, title: "HIP 92726 A", items: [["RVM", RED], ["HERMES/Mercator", GREEN]] },
    fit: [["a", false]], resLeg: [{ text: "-0.099 \u00b1 0.589 (41)" }], ylab: [947.7, 955], sup: ["a"] },
  { left: 53.3, right: 434.3, top: 1046, bottoms: [1278.3, 1336], ranges: [[-29, -4.1], [-3.97, 3.75]], ticks: [[-5, -10, -15, -20, -25], [2.5, 0, -2.5]], dec: [0, 1],
    curves: [{ data: hip92726BCurve }], gammas: [{ v: hip92726BGamma }],
    sets: [red(hip92726BHermes, 0)],
    leg: { x: 186, y: 1051.7, title: "HIP 92726 B", items: [["HERMES/Mercator", RED]] },
    fit: [["a", false]], resLeg: [{ text: "0.276 \u00b1 1.984 (10)" }], ylab: [20, 18.3], sup: ["a"] },
  { left: 519, right: 900, top: 1046, bottoms: [1278.3, 1336], ranges: [[-74.3, -5.35], [-4.37, 6.58]], ticks: [[-10, -20, -30, -40, -50, -60, -70], [5, 0]], dec: [0, 0],
    curves: [{ data: hip95066Curve }], gammas: [{ v: hip95066Gamma }],
    sets: [red(hip95066Lick, 1.0), green(hip95066Hermes, 0.1)],
    leg: { x: 649.3, y: 1226.7, title: "HIP 95066", items: [["HERMES/Mercator", GREEN], ["Lick Obs.", RED]] },
    fit: [["a", false]], resLeg: [{ text: "0.026 \u00b1 1.114 (56)" }], ylab: [480.7, 499.3], sup: ["a"] },
  { left: 986.7, right: 1365.7, top: 1046, bottoms: [1278.3, 1336], ranges: [[-48.1, 70], [-13.8, 14.3]], ticks: [[60, 40, 20, 0, -20, -40], [10, 0, -10]], dec: [0, 0],
    curves: [{ data: hip95176Curve }], gammas: [{ v: hip95176Gamma }],
    sets: [red(hip95176Hermes, 4.0)],
    leg: { x: 1115.7, y: 1051.7, title: "HIP 95176", items: [["HERMES/Mercator", RED]] },
    fit: [["a", false]], resLeg: [{ text: "0.009 \u00b1 3.938 (30)" }], ylab: [949, 946.7], sup: ["a"] },
  { left: 65.6, right: 434, top: 1393.7, bottoms: [1625.5, 1684.5], ranges: [[-24.4, 7.1], [-0.56, 0.48]], ticks: [[5, 0, -5, -10, -15, -20], [0.25, 0, -0.25]], dec: [0, 2],
    curves: [{ data: hip100738Curve }], gammas: [{ v: hip100738Gamma }],
    sets: [red(hip100738Fairborn, 0.08), green(hip100738Hermes, 0.02)],
    leg: { x: 309.4, y: 1397, title: "HIP 100738", items: [["Fairborn Obs.", RED], ["HERMES/Mercator", GREEN]] },
    fit: [["a", false]], resLeg: [{ text: "0.000 \u00b1 0.144 (96)" }], ylab: [30.6, 24], sup: ["a"] },
  { left: 519.2, right: 898.5, top: 1393.7, bottoms: [1625.5, 1684.5], ranges: [[-32.0, -16.1], [-1.33, 2.27]], ticks: [[-18, -20, -22, -24, -26, -28, -30], [2, 0]], dec: [0, 0],
    curves: [{ data: hip104785Curve }], gammas: [{ v: hip104785Gamma }],
    sets: [red(hip104785Dao, 0.5), green(hip104785Hermes, 0.05)],
    leg: { x: 648, y: 1397, title: "HIP 104785", items: [["HERMES/Mercator", GREEN], ["DAO", RED]] },
    fit: [["a", false]], resLeg: [{ text: "-0.000 \u00b1 0.437 (23)" }], ylab: [486.5, 486.5], sup: ["a"] },
  { left: 984.9, right: 1364.2, top: 1393.7, bottoms: [1625.5, 1684.5], ranges: [[-27.6, -10.3], [-1.32, 0.84]], ticks: [[-12, -14, -16, -18, -20, -22, -24, -26], [0, -1]], dec: [0, 0],
    curves: [{ data: hip110388Curve }], gammas: [{ v: hip110388Gamma }],
    sets: [red(hip110388Coravel, 0), green(hip110388Hermes, 0)],
    leg: { x: 987, y: 1397, title: "HIP 110388", items: [["CORAVEL", RED], ["HERMES/Mercator", GREEN]] },
    fit: [["a", false]], resLeg: [{ text: "-0.006 \u00b1 0.347 (23)" }], ylab: [949, 949], sup: ["a"] },
];

function fmt(d: number) {
  return (v: number) => (v < -1e-9 ? "\u2212" : "") + Math.abs(v).toFixed(d);
}

function buildOption(): any {
  const canvas = document.createElement("canvas");
  const ctx = canvas.getContext("2d") as CanvasRenderingContext2D;
  const tw = (t: string, size: number, italic = false) => {
    ctx.font = `${italic ? "italic " : ""}${size}px "DejaVu Sans"`;
    return ctx.measureText(t).width;
  };
  const grid: any[] = [], xAxis: any[] = [], yAxis: any[] = [], series: any[] = [], els: any[] = [];
  const Z = 100;
  const txt = (x: number, y: number, text: string, size: number, opts: any = {}) => ({
    type: "text", x, y, z: Z + 2,
    style: { text, fontSize: size, fontFamily: FONT, fontStyle: opts.italic ? "italic" : "normal", fill: "#000", align: opts.align || "left", verticalAlign: "middle" },
  });
  const xAx = (gi: number, pos: string, labels: boolean) => ({
    gridIndex: gi, type: "value", min: 0, max: 1, position: pos,
    axisLine: { show: false, onZero: false }, splitLine: { show: false },
    axisTick: { show: true, inside: true, length: 4, lineStyle: { color: "#000", width: 1 }, customValues: PHASE_TICKS },
    axisLabel: { show: labels, customValues: PHASE_TICKS, formatter: fmt(1), margin: 3, color: "#000", fontSize: 11.5, fontFamily: FONT },
  });
  const errSeries = (gi: number, rows: number[][], color: string) => ({
    type: "custom", xAxisIndex: gi * 2, yAxisIndex: gi, clip: true, silent: true, z: 2,
    data: rows, encode: { x: 0, y: [1, 2] },
    renderItem: (_p: any, api: any) => {
      const a = api.coord([api.value(0), api.value(1)]);
      const b = api.coord([api.value(0), api.value(2)]);
      return { type: "line", shape: { x1: a[0], y1: a[1], x2: b[0], y2: b[1] }, style: { stroke: color, lineWidth: 1.1 } };
    },
  });
  const pointSeries = (gi: number, data: number[][], s: DS) => ({
    type: "scatter", xAxisIndex: gi * 2, yAxisIndex: gi, silent: true, z: 4, clip: true,
    data, symbol: s.diamond ? "diamond" : "circle", symbolSize: s.diamond ? [4.5, 6.5] : 5.5,
    itemStyle: s.edge ? { color: s.color, borderColor: "#000", borderWidth: 0.6, opacity: 1 } : { color: s.color, opacity: 1 },
  });
  const hline = (gi: number, v: number, dash: boolean, color: string, width: number) => ({
    type: "line", xAxisIndex: gi * 2, yAxisIndex: gi, silent: true, z: 1, symbol: "none", showSymbol: false,
    data: [[0, v], [1, v]], lineStyle: { color, width, type: dash ? [4, 2] : "solid" },
  });

  PANELS.forEach((p) => {
    const tops = [p.top, ...p.bottoms.slice(0, -1)];
    const gIdx: number[] = [];
    p.bottoms.forEach((b, k) => {
      const gi = grid.length;
      gIdx.push(gi);
      const t = tops[k];
      const last = k === p.bottoms.length - 1;
      grid.push({ left: p.left, top: t, width: p.right - p.left, height: b - t, show: true, borderColor: "#000", borderWidth: 1, backgroundColor: "rgba(0,0,0,0)" });
      xAxis.push(xAx(gi, "bottom", last));
      xAxis.push(xAx(gi, "top", false));
      yAxis.push({
        gridIndex: gi, type: "value", min: p.ranges[k][0], max: p.ranges[k][1], position: "left",
        axisLine: { show: false, onZero: false }, splitLine: { show: false },
        axisTick: { show: true, inside: true, length: 4, lineStyle: { color: "#000", width: 1 }, customValues: p.ticks[k] },
        axisLabel: { show: true, customValues: p.ticks[k], formatter: fmt(p.dec[k]), margin: 3, color: "#000", fontSize: 11.5, fontFamily: FONT },
      });
      if (k > 0) {
        const dz = p.zeroDash ? !!p.zeroDash[k - 1] : false;
        series.push(hline(gi, 0, dz, GREY, 1.3));
      }
    });
    const g0 = gIdx[0];
    p.gammas.forEach((g) => series.push(hline(g0, g.v, !!g.dash, GREY, 1.3)));
    p.curves.forEach((c) => series.push({
      type: "line", xAxisIndex: g0 * 2, yAxisIndex: g0, silent: true, z: 3, symbol: "none", showSymbol: false,
      smooth: 0.4, data: c.data, lineStyle: { color: "#000", width: 1, type: c.dash ? [4, 2] : "solid" },
    }));
    p.sets.forEach((s) => {
      const gr = gIdx[s.res];
      if (s.err > 0) {
        series.push(errSeries(g0, s.pts.map((q) => [q[0], q[1] - s.err, q[1] + s.err]), s.errColor));
        series.push(errSeries(gr, s.pts.map((q) => [q[0], q[2] - s.err, q[2] + s.err]), s.errColor));
      }
      series.push(pointSeries(g0, s.pts.map((q) => [q[0], q[1]]), s));
      series.push(pointSeries(gr, s.pts.map((q) => [q[0], q[2]]), s));
    });

    // ---- main legend
    const L = p.leg;
    const lw = 31 + Math.max(...L.items.map((i) => tw(i[0], 9.5))) + 1.5;
    const lh = L.items.length === 1 ? 32.5 : 47;
    els.push({ type: "rect", z: Z, shape: { x: L.x, y: L.y, width: lw, height: lh, r: 2.5 }, style: { fill: "rgba(255,255,255,0.8)", stroke: "#cccccc", lineWidth: 1 } });
    els.push(txt(L.x + lw / 2, L.y + 9.5, L.title, 11.5, { align: "center" }));
    L.items.forEach((it, i) => {
      const yy = L.y + 24 + 14.5 * i;
      els.push({ type: "circle", z: Z + 1, shape: { cx: L.x + 13.5, cy: yy, r: 2.6 }, style: { fill: it[1], stroke: "#000", lineWidth: 0.6 } });
      els.push(txt(L.x + 30, yy, it[0], 9.5));
    });

    // ---- fit legend
    const fh = p.fit.length === 1 ? 17 : 30;
    const fw = 34 + Math.max(...p.fit.map((f) => tw(f[0], 9.5)));
    const fx = p.left + 5, fy = p.bottoms[0] - 4.5 - fh;
    els.push({ type: "rect", z: Z, shape: { x: fx, y: fy, width: fw, height: fh, r: 2.5 }, style: { fill: "rgba(255,255,255,0.8)", stroke: "#cccccc", lineWidth: 1 } });
    p.fit.forEach((f, i) => {
      const yy = fy + (p.fit.length === 1 ? 8.5 : 8 + 13.5 * i);
      els.push({ type: "line", z: Z + 1, shape: { x1: fx + 4, y1: yy, x2: fx + 24, y2: yy }, style: { stroke: "#000", lineWidth: 1, lineDash: f[1] ? [3.5, 1.5] : null } });
      els.push(txt(fx + 29.5, yy, f[0], 9.5));
    });

    // ---- residual legends
    p.resLeg.forEach((r, k) => {
      const top = p.bottoms[k];
      const w = 36 + tw(r.text, 9.5);
      const x = p.right - 4.5 - w, y = top + 5.5;
      els.push({ type: "rect", z: Z, shape: { x, y, width: w, height: 16.5, r: 2.5 }, style: { fill: "rgba(255,255,255,0.8)", stroke: "#cccccc", lineWidth: 1 } });
      const cx = x + 13, cy = y + 8.25;
      if (r.diamond) {
        els.push({ type: "polygon", z: Z + 1, shape: { points: [[cx, cy - 3.3], [cx + 2.2, cy], [cx, cy + 3.3], [cx - 2.2, cy]] }, style: { fill: GREY } });
      } else {
        els.push({ type: "circle", z: Z + 1, shape: { cx, cy, r: 2.8 }, style: { fill: GREY } });
      }
      els.push(txt(x + 32, cy, r.text, 9.5));
    });

    // ---- y labels
    const F = 11.5, S = 8;
    const allTops = [p.top, ...p.bottoms];
    p.ylab.forEach((cx, k) => {
      const cy = (allTops[k] + allTops[k + 1]) / 2;
      let children: any[];
      if (k === 0) {
        const w1 = tw("v", F, true), w2 = tw("rad", S), w3 = tw(" [km/s]", F);
        const x0 = -(w1 + w2 + w3) / 2;
        children = [txt(x0, 0, "v", F, { italic: true }), txt(x0 + w1, 3.3, "rad", S), txt(x0 + w1 + w2, 0, " [km/s]", F)];
      } else {
        const sup = p.sup[k - 1];
        const wD = tw("\u0394", F), wv = tw("v", F, true), wa = tw(sup, S, true), wr = tw("rad", S);
        const x0 = -(wD + wv + Math.max(wa, wr)) / 2;
        children = [txt(x0, 0, "\u0394", F), txt(x0 + wD, 0, "v", F, { italic: true }), txt(x0 + wD + wv + 0.8, -4.6, sup, S, { italic: true }), txt(x0 + wD + wv, 3.6, "rad", S)];
      }
      els.push({ type: "group", x: cx, y: cy, rotation: Math.PI / 2, children });
    });

    // ---- phase label
    els.push(txt((p.left + p.right) / 2, p.bottoms[p.bottoms.length - 1] + 21.5, "Phase", 11.5, { align: "center" }));
  });

  return { animation: false, backgroundColor: "#ffffff", grid, xAxis, yAxis, series, graphic: { elements: els } };
}

export default function App() {
  const ref = useRef<HTMLDivElement>(null);
  useEffect(() => {
    const el = ref.current as HTMLDivElement;
    const chart = echarts.init(el, undefined, { renderer: "svg", width: 1397, height: 1714 });
    chart.setOption(buildOption());
    return () => chart.dispose();
  }, []);
  return <div ref={ref} style={{ position: "absolute", left: 0, top: 0, width: 1397, height: 1714, background: "#fff" }} />;
}
